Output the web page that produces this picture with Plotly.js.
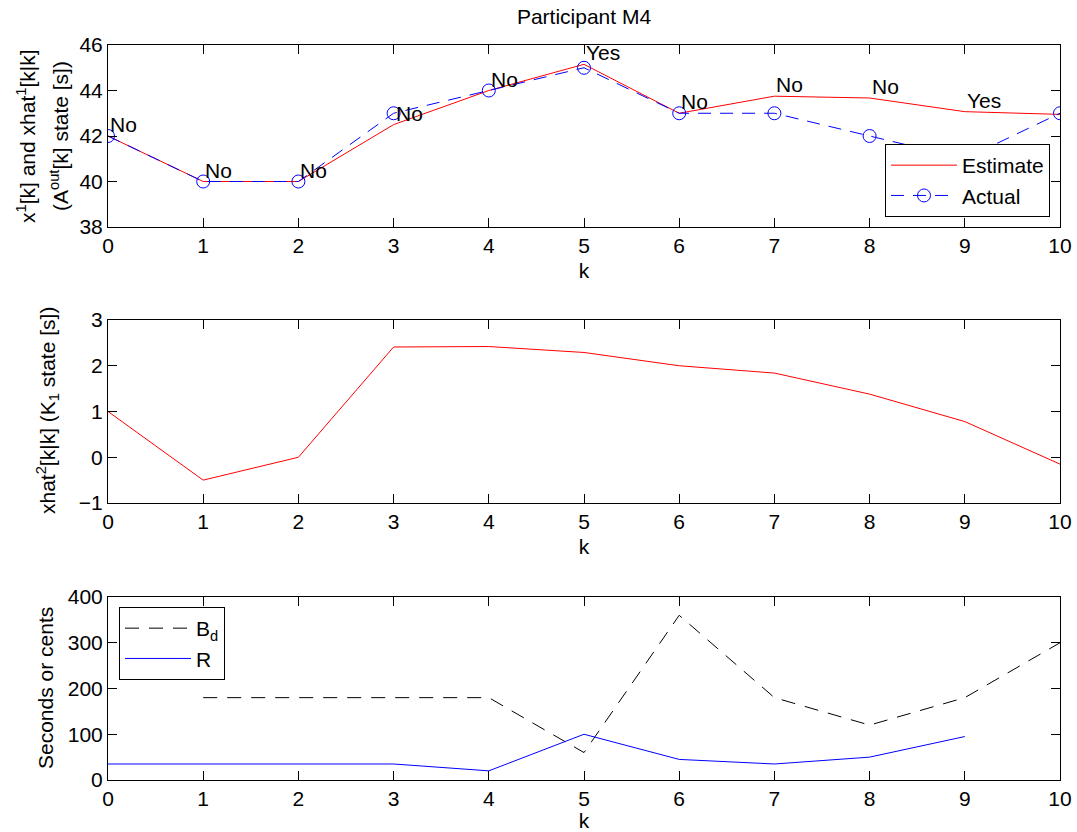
<!DOCTYPE html>
<html>
<head>
<meta charset="utf-8">
<script src="https://cdn.plot.ly/plotly-3.0.1.min.js"></script>
<style>
  html, body { margin: 0; padding: 0; background: #fff; }
  #chart { width: 1077px; height: 832px; }
</style>
</head>
<body>
<div id="chart"></div>
<script>
// Time steps
const k = [0, 1, 2, 3, 4, 5, 6, 7, 8, 9, 10];

// Panel 1: estimated and actual A_out state
const estimate = [42.0, 40.0, 40.0, 42.5, 44.0, 45.15, 43.0, 43.75, 43.67, 43.07, 42.95];
const actual   = [42, 40, 40, 43, 44, 45, 43, 43, 42, 41, 43];
const decisionK = [0, 1, 2, 3, 4, 5, 6, 7, 8, 9];
const decisions = ['No', 'No', 'No', 'No', 'No', 'Yes', 'No', 'No', 'No', 'Yes'];

// Panel 2: K_1 state estimate
const xhat2 = [1.0, -0.5, 0.0, 2.41, 2.42, 2.29, 2.0, 1.84, 1.38, 0.78, -0.15];

// Panel 3: B_d and R
const bdK = [1, 2, 3, 4, 5, 6, 7, 8, 9, 10];
const bd  = [180, 180, 180, 180, 60, 360, 180, 120, 180, 300];
const rK  = [0, 1, 2, 3, 4, 5, 6, 7, 8, 9];
const r   = [35, 35, 35, 35, 20, 100, 45, 35, 50, 95];

const FONT = 'Liberation Sans, Arial, Helvetica, sans-serif';
const FS = 21;
const W = 1077, H = 832;
const L = 108, R = 1060;

// pixel helpers for paper coordinates
const px = x => (x - L) / (R - L);
const py = y => 1 - y / H;

const traces = [
  {
    x: k, y: estimate, name: 'Estimate', type: 'scatter', mode: 'lines',
    line: { color: '#ff0000', width: 1 }, xaxis: 'x', yaxis: 'y', legend: 'legend'
  },
  {
    x: k, y: actual, name: 'Actual', type: 'scatter', mode: 'lines+markers',
    line: { color: '#0000ff', width: 1, dash: '13px,9px' },
    marker: { symbol: 'circle-open', size: 13, color: '#0000ff', line: { width: 1, color: '#0000ff' } },
    xaxis: 'x', yaxis: 'y', legend: 'legend'
  },
  {
    x: k, y: xhat2, type: 'scatter', mode: 'lines', showlegend: false,
    line: { color: '#ff0000', width: 1 }, xaxis: 'x2', yaxis: 'y2'
  },
  {
    x: bdK, y: bd, name: 'B<sub>d</sub>', type: 'scatter', mode: 'lines',
    line: { color: '#000000', width: 1, dash: '14px,10px' }, xaxis: 'x3', yaxis: 'y3', legend: 'legend2'
  },
  {
    x: rK, y: r, name: 'R', type: 'scatter', mode: 'lines',
    line: { color: '#0000ff', width: 1 }, xaxis: 'x3', yaxis: 'y3', legend: 'legend2'
  }
];

const xaxisBase = {
  range: [0, 10], dtick: 1, tick0: 0,
  showline: true, mirror: 'ticks', linecolor: '#000', linewidth: 1,
  ticks: 'inside', ticklen: 9, tickcolor: '#000', tickwidth: 1,
  showgrid: false, zeroline: false,
  tickfont: { family: FONT, size: FS, color: '#000' },
  title: { text: 'k', font: { family: FONT, size: FS, color: '#000' }, standoff: 7 },
  automargin: false
};
const yaxisBase = {
  showline: true, mirror: 'ticks', linecolor: '#000', linewidth: 1,
  ticks: 'inside', ticklen: 9, tickcolor: '#000', tickwidth: 1,
  showgrid: false, zeroline: false,
  tickfont: { family: FONT, size: FS, color: '#000' },
  automargin: false
};

// y-axis titles drawn as rotated labels so the two-line title keeps its spacing
const yTitle = (text, xPix, yPix) => ({
  text: text, xref: 'paper', yref: 'paper', x: px(xPix), y: py(yPix),
  xanchor: 'center', yanchor: 'middle', textangle: -90, showarrow: false,
  font: { family: FONT, size: FS, color: '#000' }
});

const annotations = decisionK.map((kk, i) => ({
  text: decisions[i], x: kk, y: estimate[kk] + 0.5, xref: 'x', yref: 'y',
  xanchor: 'left', yanchor: 'middle', showarrow: false,
  font: { family: FONT, size: FS, color: '#000' }
}));
annotations.push(yTitle('x<sup>1</sup>[k] and xhat<sup>1</sup>[k|k]', 26, 136));
annotations.push(yTitle('(A<sup>out</sup>[k] state [s])', 59, 136));
annotations.push(yTitle('xhat<sup>2</sup>[k|k] (K<sub>1</sub> state [s])', 47, 411));
annotations.push(yTitle('Seconds or cents', 45, 688));

const legendBase = {
  bgcolor: '#fff', bordercolor: '#000', borderwidth: 1,
  font: { family: FONT, size: FS, color: '#000' },
  itemwidth: 66, tracegroupgap: 0, traceorder: 'normal'
};

const layout = {
  width: W, height: H,
  margin: { l: L, r: W - R, t: 0, b: 0 },
  paper_bgcolor: '#fff', plot_bgcolor: '#fff',
  title: {
    text: 'Participant M4', x: 0.5, xref: 'paper', xanchor: 'center',
    y: py(17), yref: 'container', yanchor: 'middle',
    font: { family: FONT, size: FS, color: '#000' }
  },
  xaxis:  Object.assign({}, xaxisBase, { anchor: 'y' }),
  yaxis:  Object.assign({}, yaxisBase, { domain: [py(227), py(45)], range: [38, 46], dtick: 2, anchor: 'x' }),
  xaxis2: Object.assign({}, xaxisBase, { anchor: 'y2' }),
  yaxis2: Object.assign({}, yaxisBase, { domain: [py(503), py(320)], range: [-1, 3], dtick: 1, anchor: 'x2' }),
  xaxis3: Object.assign({}, xaxisBase, { anchor: 'y3' }),
  yaxis3: Object.assign({}, yaxisBase, { domain: [py(780), py(597)], range: [0, 400], dtick: 100, anchor: 'x3' }),
  legend:  Object.assign({}, legendBase, { x: px(1050), y: py(217), xanchor: 'right', yanchor: 'bottom' }),
  legend2: Object.assign({}, legendBase, { x: px(119), y: py(607), xanchor: 'left', yanchor: 'top' }),
  annotations: annotations,
  showlegend: true
};

Plotly.newPlot('chart', traces, layout, { displayModeBar: false, staticPlot: true });
</script>
</body>
</html>
